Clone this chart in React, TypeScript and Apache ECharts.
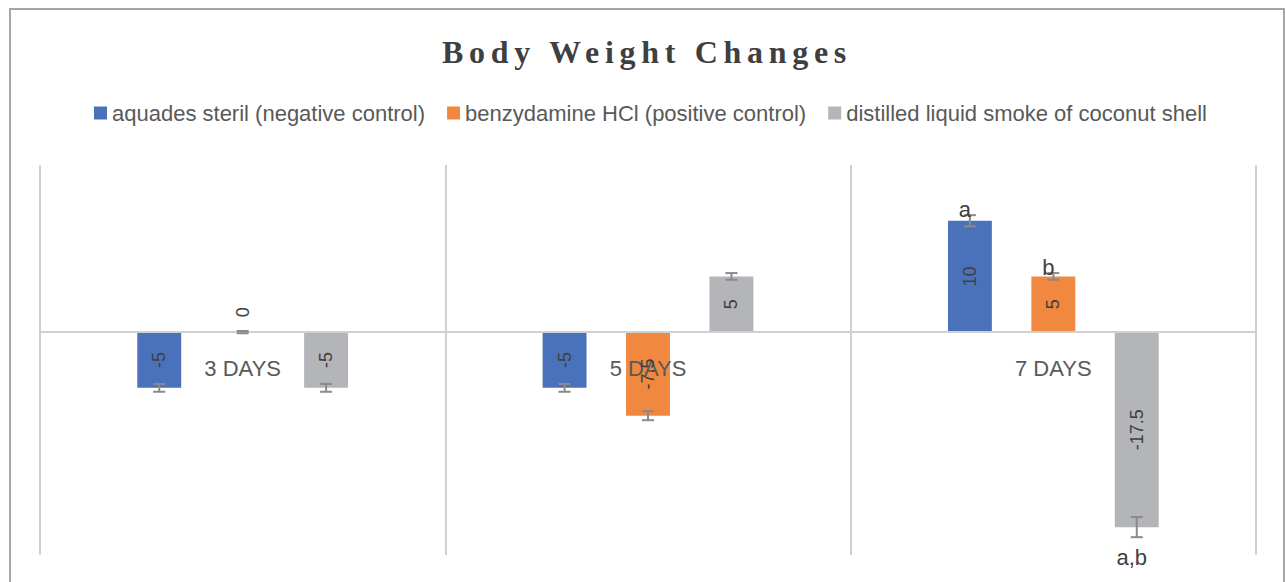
import React, { useEffect, useRef } from 'react';
import * as echarts from 'echarts';

const TITLE = 'Body Weight Changes';
const categories = ['3 DAYS', '5 DAYS', '7 DAYS'];
const seriesNames = [
  'aquades steril (negative control)',
  'benzydamine HCl (positive control)',
  'distilled liquid smoke of coconut shell',
];
const negativeControl = [-5, -5, 10];
const positiveControl = [0, -7.5, 5];
const liquidSmoke = [-5, 5, -17.5];
const errNegative = [0.35, 0.35, 0.5];
const errPositive = [0.1, 0.4, 0.3];
const errSmoke = [0.35, 0.3, 0.9];
const notesNegative = ['', '', 'a'];
const notesPositive = ['', '', 'b'];
const notesSmoke = ['', '', 'a,b'];
const colors = ['#4a72ba', '#f0883f', '#b4b5b8'];

const BAR_GAP = 0.9;
const CAT_GAP = 0.48;
const SANS = '"Liberation Sans", Arial, sans-serif';

export default function App() {
  const ref = useRef<HTMLDivElement>(null);
  useEffect(() => {
    if (!ref.current) return;
    const chart = echarts.init(ref.current, undefined, { renderer: 'svg' });
    const groups = [
      { values: negativeControl, errs: errNegative, notes: notesNegative },
      { values: positiveControl, errs: errPositive, notes: notesPositive },
      { values: liquidSmoke, errs: errSmoke, notes: notesSmoke },
    ];
    const errData: number[][] = [];
    groups.forEach((g, gi) =>
      g.values.forEach((v, ci) => errData.push([ci, v, g.errs[ci], gi]))
    );
    const barSeries = groups.map((g, gi) => ({
      name: seriesNames[gi],
      type: 'bar',
      barGap: BAR_GAP * 100 + '%',
      barCategoryGap: CAT_GAP * 100 + '%',
      z: 2,
      itemStyle: { color: colors[gi] },
      data: g.values,
    }));
    const option: any = {
      animation: false,
      backgroundColor: '#ffffff',
      title: {
        text: TITLE,
        left: 442,
        top: 36,
        padding: 0,
        textStyle: {
          fontFamily: '"Liberation Serif", "Times New Roman", serif',
          fontWeight: 'bold',
          fontSize: 32,
          color: '#3f3f3f',
        },
      },
      legend: {
        data: seriesNames,
        left: 94,
        top: 102,
        padding: 0,
        icon: 'rect',
        itemWidth: 13,
        itemHeight: 13,
        itemGap: 22,
        textStyle: { fontSize: 22, fontFamily: SANS, color: '#595959' },
      },
      grid: {
        left: 40,
        right: 29,
        top: 165,
        bottom: 27,
        containLabel: false,
        outerBoundsMode: 'none',
      },
      xAxis: {
        type: 'category',
        data: categories,
        z: 5,
        axisLine: { onZero: true, lineStyle: { color: '#d0d0d0', width: 2 } },
        axisTick: { show: false },
        axisLabel: { margin: -198, fontSize: 22, fontFamily: SANS, color: '#595959' },
        splitLine: { show: true, lineStyle: { color: '#d0d0d4', width: 2 } },
      },
      yAxis: {
        type: 'value',
        min: -20,
        max: 15,
        interval: 5,
        show: false,
        splitLine: { show: false },
      },
      graphic: [
        {
          type: 'rect',
          silent: true,
          shape: { x: 10, y: 9, width: 1274, height: 620 },
          style: { fill: 'none', stroke: '#a6a6a6', lineWidth: 2 },
        },
      ],
      series: [
        ...barSeries,
        {
          type: 'custom',
          silent: true,
          z: 6,
          data: errData,
          renderItem: (params: any, api: any) => {
            const ci = api.value(0);
            const v = api.value(1);
            const e = api.value(2);
            const gi = api.value(3);
            const W = api.size([1, 0])[0];
            const bw = (W * (1 - CAT_GAP)) / (3 + 2 * BAR_GAP);
            const cx = api.coord([ci, v])[0] + (gi - 1) * bw * (1 + BAR_GAP);
            const yVal = api.coord([ci, v])[1];
            const yZero = api.coord([ci, 0])[1];
            const yTop = api.coord([ci, v + e])[1];
            const yBot = api.coord([ci, v - e])[1];
            const style = { stroke: '#8a8a8a', lineWidth: 2 };
            const labelY = v === 0 ? yZero - 20 : (yVal + yZero) / 2;
            const children: any[] = [
              {
                type: 'text',
                x: cx,
                y: labelY,
                rotation: Math.PI / 2,
                style: {
                  text: String(v),
                  fill: '#404040',
                  fontSize: 18,
                  fontFamily: SANS,
                  align: 'center',
                  verticalAlign: 'middle',
                },
              },
              { type: 'line', shape: { x1: cx, y1: yTop, x2: cx, y2: yBot }, style },
              { type: 'line', shape: { x1: cx - 6, y1: yTop, x2: cx + 6, y2: yTop }, style },
              { type: 'line', shape: { x1: cx - 6, y1: yBot, x2: cx + 6, y2: yBot }, style },
            ];
            const note = groups[gi].notes[ci];
            if (note) {
              const up = v >= 0;
              children.push({
                type: 'text',
                x: cx - 5,
                y: up ? yTop + 5 : yBot + 9,
                style: {
                  text: note,
                  fill: '#404040',
                  fontSize: 22,
                  fontFamily: SANS,
                  align: 'center',
                  verticalAlign: up ? 'bottom' : 'top',
                },
              });
            }
            return { type: 'group', children };
          },
        },
      ],
    };
    chart.setOption(option);
    const applySpacing = () => {
      ref.current?.querySelectorAll('text').forEach((t) => {
        if (t.textContent === TITLE) (t as any).style.letterSpacing = '5.7px';
      });
    };
    applySpacing();
    const raf = requestAnimationFrame(applySpacing);
    return () => {
      cancelAnimationFrame(raf);
      chart.dispose();
    };
  }, []);
  return (
    <div
      ref={ref}
      style={{ position: 'fixed', left: 0, top: 0, width: 1285, height: 582 }}
    />
  );
}
